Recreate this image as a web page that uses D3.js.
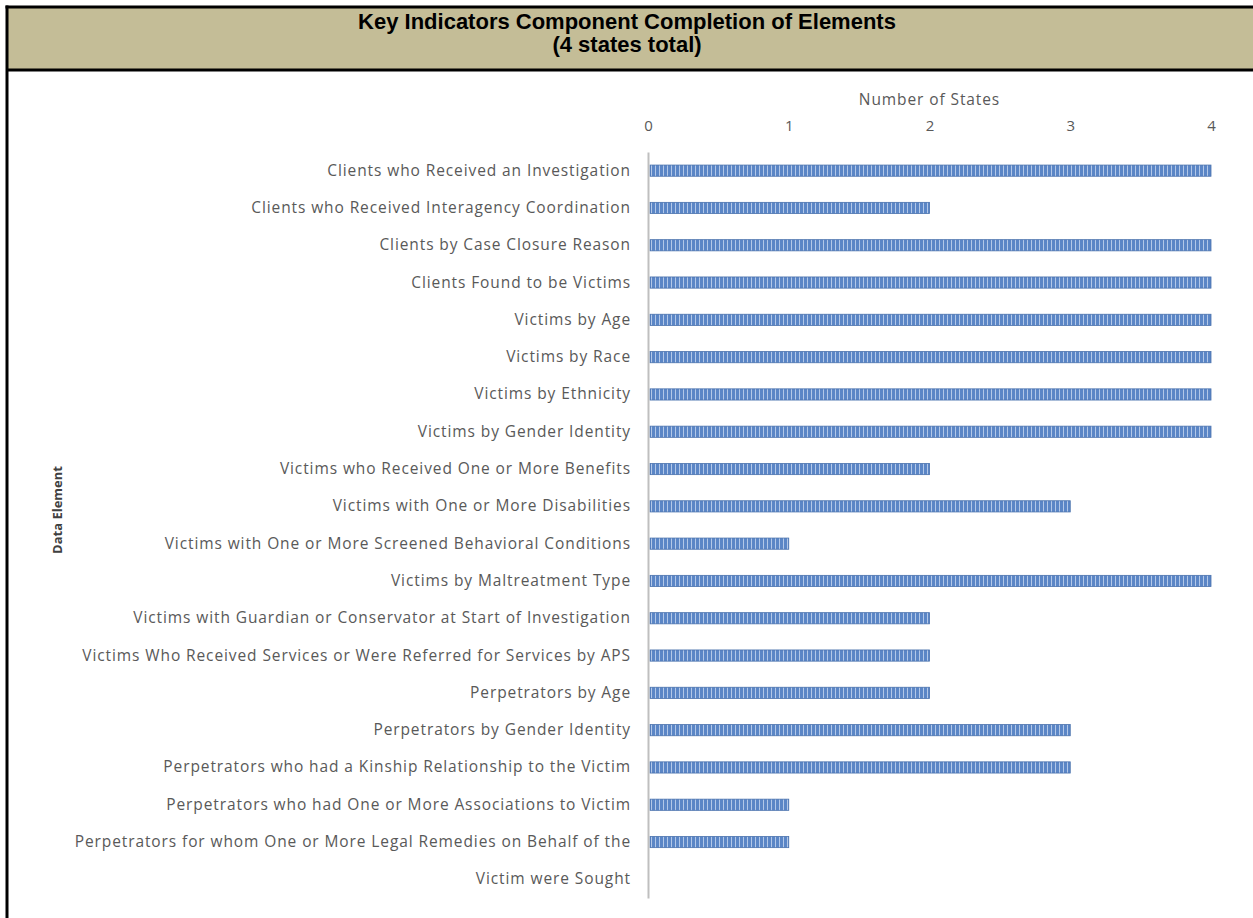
<!DOCTYPE html>
<html>
<head>
<meta charset="utf-8">
<script src="https://cdn.jsdelivr.net/npm/d3@7"></script>
<style>
  html, body { margin: 0; padding: 0; background: #fff; }
  svg { display: block; }
</style>
</head>
<body>
<svg id="chart" width="1253" height="918"></svg>
<script>
// Data elements (the last one wraps onto a second label line)
const categories = [
  "Clients who Received an Investigation",
  "Clients who Received Interagency Coordination",
  "Clients by Case Closure Reason",
  "Clients Found to be Victims",
  "Victims by Age",
  "Victims by Race",
  "Victims by Ethnicity",
  "Victims by Gender Identity",
  "Victims who Received One or More Benefits",
  "Victims with One or More Disabilities",
  "Victims with One or More Screened Behavioral Conditions",
  "Victims by Maltreatment Type",
  "Victims with Guardian or Conservator at Start of Investigation",
  "Victims Who Received Services or Were Referred for Services by APS",
  "Perpetrators by Age",
  "Perpetrators by Gender Identity",
  "Perpetrators who had a Kinship Relationship to the Victim",
  "Perpetrators who had One or More Associations to Victim",
  ["Perpetrators for whom One or More Legal Remedies on Behalf of the", "Victim were Sought"]
];
const stateCounts = [4, 2, 4, 4, 4, 4, 4, 4, 2, 3, 1, 4, 2, 2, 2, 3, 3, 1, 1];
const tickValues = [0, 1, 2, 3, 4];

const titleLines = ["Key Indicators Component Completion of Elements", "(4 states total)"];
const xAxisTitle = "Number of States";
const yAxisTitle = "Data Element";

const svg = d3.select("#chart");
const W = 1253, H = 918;

// Header banner
svg.append("rect").attr("x", 7).attr("y", 7).attr("width", W).attr("height", 63)
  .attr("fill", "#c4bd97");
svg.append("line").attr("x1", 5.5).attr("x2", W).attr("y1", 7).attr("y2", 7)
  .attr("stroke", "#000").attr("stroke-width", 3);
svg.append("line").attr("x1", 7).attr("x2", W).attr("y1", 70).attr("y2", 70)
  .attr("stroke", "#000").attr("stroke-width", 3);
svg.append("line").attr("x1", 7).attr("x2", 7).attr("y1", 5.5).attr("y2", H)
  .attr("stroke", "#000").attr("stroke-width", 3);

svg.selectAll("text.title").data(titleLines).join("text")
  .attr("class", "title")
  .attr("x", 627).attr("y", (d, i) => 29 + i * 23)
  .attr("text-anchor", "middle")
  .attr("font-family", "Liberation Sans, Arial, sans-serif")
  .attr("font-weight", "bold").attr("font-size", 22)
  .attr("fill", "#000")
  .text(d => d);

// Label rows: one per text line, so the wrapped label occupies two rows
const labelRows = [];
categories.forEach((c, i) => {
  const lines = Array.isArray(c) ? c : [c];
  lines.forEach((t, j) => labelRows.push({ text: t, cat: i, line: j }));
});
const catRow = categories.map((c, i) => labelRows.findIndex(r => r.cat === i));

const x0 = 648, x1 = 1211, yTop = 152, yBot = 898;
const x = d3.scaleLinear().domain([0, 4]).range([x0, x1]);
const y = d3.scaleBand().domain(d3.range(labelRows.length)).range([yTop, yBot]).paddingInner(0.7).paddingOuter(0.35);

// Striped bar fill
const defs = svg.append("defs");
const pat = defs.append("pattern").attr("id", "stripes")
  .attr("patternUnits", "userSpaceOnUse").attr("width", 4).attr("height", 12);
pat.append("rect").attr("width", 4).attr("height", 12).attr("fill", "#5b86c6");
pat.append("rect").attr("x", 3).attr("width", 1).attr("height", 12).attr("fill", "#b3c8e8");

const font = "'Open Sans', 'Noto Sans', sans-serif";
const spacing = 0.9;

// Axis title and top axis
svg.append("text").attr("x", (x0 + x1) / 2).attr("y", 105)
  .attr("text-anchor", "middle").attr("font-family", font).attr("font-size", 15.5)
  .attr("letter-spacing", spacing)
  .attr("fill", "#595959").text(xAxisTitle);

const xAxis = d3.axisTop(x).tickValues(tickValues).tickFormat(d3.format("d")).tickSize(0).tickPadding(0);
const gx = svg.append("g").attr("transform", "translate(0,131)").call(xAxis);
gx.select(".domain").remove();
gx.selectAll("text").attr("font-family", font).attr("font-size", 15).attr("fill", "#595959");

// Bars
svg.append("g").selectAll("rect").data(stateCounts).join("rect")
  .attr("x", x(0) + 2)
  .attr("y", (d, i) => y(catRow[i]))
  .attr("width", d => x(d) - x(0) - 2)
  .attr("height", y.bandwidth())
  .attr("fill", "url(#stripes)")
  .attr("stroke", "#4a72ad").attr("stroke-width", 0.8);

// Vertical category axis
const yAxis = d3.axisLeft(y).tickSize(0).tickPadding(17).tickFormat(i => labelRows[i].text);
const gy = svg.append("g").attr("transform", `translate(${x0},0)`).call(yAxis);
gy.select(".domain").attr("stroke", "#bfbfbf").attr("stroke-width", 2);
gy.selectAll("text").attr("font-family", font).attr("font-size", 15.5)
  .attr("letter-spacing", spacing).attr("fill", "#595959");

// Vertical axis title
svg.append("text").attr("transform", "translate(62,510) rotate(-90)")
  .attr("text-anchor", "middle").attr("font-family", font).attr("font-weight", "bold")
  .attr("font-size", 13).attr("fill", "#404040").text(yAxisTitle);
</script>
</body>
</html>
